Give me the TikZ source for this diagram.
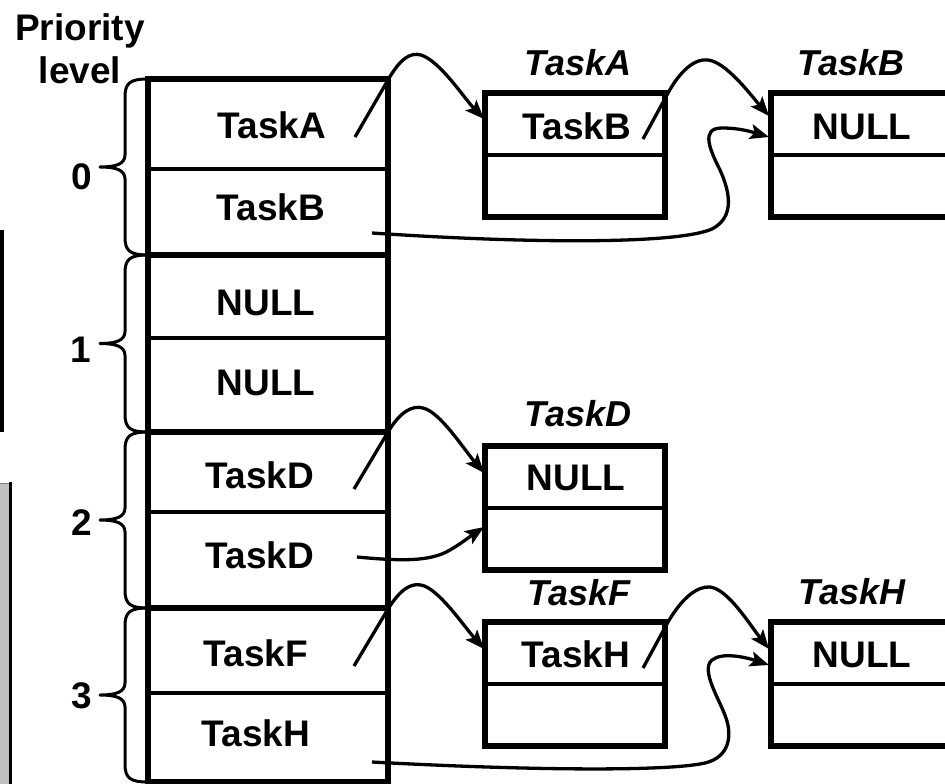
\documentclass[tikz,border=0pt]{standalone}
\usepackage{fontspec}
\setmainfont{Liberation Sans}
\usetikzlibrary{arrows.meta}
\definecolor{panelgray}{RGB}{192,192,192}
\begin{document}
\begin{tikzpicture}[x=1pt,y=-1pt,
  txt/.style={font=\fontsize{37}{40}\selectfont\bfseries, inner sep=0pt, anchor=base},
  lbl/.style={font=\fontsize{36}{40}\selectfont\bfseries\itshape, inner sep=0pt, anchor=base},
  listbox/.style={draw, line width=6pt, minimum width=180pt, minimum height=124pt, inner sep=0pt},
  thickline/.style={line width=6pt},
  thinline/.style={line width=3.5pt},
  boxdiv/.style={line width=4pt},
  bracepath/.style={line width=3pt, line join=round},
  conn/.style={line width=3.3pt, line join=round, -{Stealth[length=19pt,width=15pt,inset=4pt]}}]
\useasboundingbox (0,0) rectangle (945,784);
\clip (0,0) rectangle (945,784);

% left-edge fragments
\fill (0,230) rectangle (4,432);
\fill[panelgray] (0,483) rectangle (10,790);
\draw[line width=0.8pt, gray] (0,483) -- (10,483);
\draw[line width=3pt] (10.5,481.5) -- (10.5,790);

% heading
\node[txt] (hd1) at (80,41) {Priority};
\node[txt] (hd2) at (80,84) {level};

% ready list column
\draw[thinline] (148,169) -- (388,169);
\draw[thinline] (148,338) -- (388,338);
\draw[thinline] (148,512) -- (388,512);
\draw[thinline] (148,693) -- (388,693);
\draw[thickline] (148,255) -- (388,255);
\draw[thickline] (148,432) -- (388,432);
\draw[thickline] (148,608) -- (388,608);
\draw[thickline] (148,79) rectangle (388,782);

% braces
\foreach \t/\b in {79/255, 255/432, 432/608, 608/782}{
  \pgfmathsetmacro{\m}{(\t+\b)/2}
  \draw[bracepath] (148,\t) .. controls (130,\t) and (125,\t+4) .. (125,\t+18)
     -- (125,\m-12) .. controls (125,\m-3) and (116,\m) .. (100,\m)
     .. controls (116,\m) and (125,\m+3) .. (125,\m+12)
     -- (125,\b-18) .. controls (125,\b-4) and (130,\b) .. (148,\b);
}
\node[txt] (n0) at (82,189) {0};
\node[txt] (n1) at (81,362) {1};
\node[txt] (n2) at (82,535) {2};
\node[txt] (n3) at (82,708) {3};

% column cell texts
\node[txt] (c1) at (272,138) {TaskA};
\node[txt] (c2) at (271,220.5) {TaskB};
\node[txt] (c3) at (266,315) {NULL};
\node[txt] (c4) at (266,395) {NULL};
\node[txt] (c5) at (260,488) {TaskD};
\node[txt] (c6) at (260,568) {TaskD};
\node[txt] (c7) at (256,666) {TaskF};
\node[txt] (c8) at (256,746) {TaskH};

% task boxes
\node[listbox] (boxA) at (575,155) {};
\node[listbox] (boxB) at (861,155) {};
\node[listbox] (boxD) at (575,508) {};
\node[listbox] (boxF) at (575,683.5) {};
\node[listbox] (boxH) at (861,683.5) {};
\foreach \bx in {boxA,boxB,boxD,boxF,boxH}
  \draw[boxdiv] (\bx.west) -- (\bx.east);

\node[txt] (tA) at (577,139) {TaskB};
\node[txt] (tB) at (862,139) {NULL};
\node[txt] (tD) at (576,490) {NULL};
\node[txt] (tF) at (576,667) {TaskH};
\node[txt] (tH) at (862,667) {NULL};

\node[lbl] (lA) at (578,75) {TaskA};
\node[lbl] (lB) at (851,75) {TaskB};
\node[lbl] (lD) at (578,426) {TaskD};
\node[lbl] (lF) at (579,605) {TaskF};
\node[lbl] (lH) at (852,604) {TaskH};

% connector end points
\coordinate (s1) at (355,137);  \coordinate (k1) at (388,80);
\coordinate (s2) at (372,233);
\coordinate (s3) at (643,139);  \coordinate (k3) at (668,93);
\coordinate (s4) at (354,489);  \coordinate (k4) at (388,432);
\coordinate (s5) at (357,557);
\coordinate (s6) at (354,666);  \coordinate (k6) at (388,609);
\coordinate (s7) at (372,762);
\coordinate (s8) at (643,668);  \coordinate (k8) at (668,622);
\coordinate (eA) at (484,119);
\coordinate (eB1) at (769,116);
\coordinate (eB2) at (769,137);
\coordinate (eD1) at (484,473);
\coordinate (eD2) at (484,527);
\coordinate (eF) at (484,649);
\coordinate (eH1) at (769,649);
\coordinate (eH2) at (769,665);

% connectors
\draw[conn] (s1) -- (k1) .. controls (400,59) and (410,52) .. (421,55)
   .. controls (440,61) and (464,98) .. (eA);
\draw[conn] (s2) .. controls (520,243) and (675,245) .. (712,229)
   .. controls (735,217) and (730,192) .. (720,170)
   .. controls (710,150) and (700,128) .. (722,128)
   .. controls (740,128) and (752,132) .. (eB2);
\draw[conn] (s3) -- (k3) .. controls (680,71) and (695,58) .. (708,60)
   .. controls (726,62) and (750,94) .. (eB1);
\draw[conn] (s4) -- (k4) .. controls (400,412) and (412,405) .. (423,408)
   .. controls (440,412) and (463,448) .. (eD1);
\draw[conn] (s5) .. controls (400,561) and (430,562) .. (450,550)
   .. controls (462,543) and (472,535) .. (eD2);
\draw[conn] (s6) -- (k6) .. controls (400,590) and (410,583) .. (421,585)
   .. controls (438,588) and (463,625) .. (eF);
\draw[conn] (s7) .. controls (520,770) and (665,772) .. (705,763)
   .. controls (730,757) and (732,735) .. (726,718)
   .. controls (720,700) and (700,670) .. (712,660)
   .. controls (722,652) and (745,657) .. (eH2);
\draw[conn] (s8) -- (k8) .. controls (682,598) and (697,586) .. (710,587)
   .. controls (728,589) and (750,625) .. (eH1);
\end{tikzpicture}
\end{document}
